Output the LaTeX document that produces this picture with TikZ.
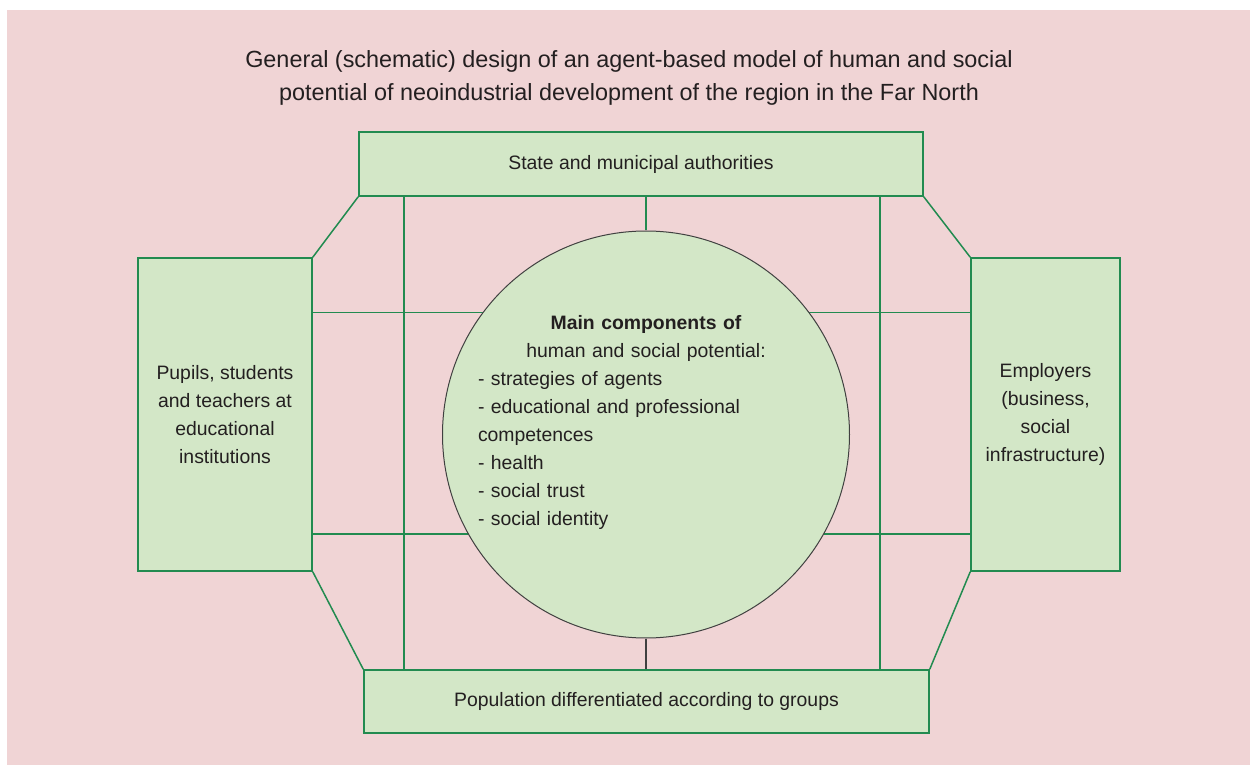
\documentclass[tikz,border=0pt]{standalone}
\usepackage{fontspec}
\setmainfont{Liberation Sans}
\definecolor{bgpink}{RGB}{240,212,213}
\definecolor{boxgreen}{RGB}{211,231,199}
\definecolor{linegreen}{RGB}{34,139,80}
\definecolor{txtgray}{RGB}{35,31,32}
\begin{document}
\begin{tikzpicture}[x=0.5pt,y=-0.5pt]
        \tikzset{
          agentbox/.style={draw=linegreen,fill=boxgreen,line width=0.75pt,inner sep=0pt,
            align=center,text=txtgray,font=\fontsize{9.7}{14}\selectfont},
          link/.style={linegreen,line width=0.75pt},
        }
        \useasboundingbox (0,0) rectangle (1250,765);
        %BACKGROUND
        \fill[bgpink] (7,10) rectangle (1250,765);
        %TITLE
        \node[align=center,text=txtgray,font=\fontsize{11.7}{16.5}\selectfont] (title) at (629,77.5)
          {General (schematic) design of an agent-based model of human and social\\
           potential of neoindustrial development of the region in the Far North};
        %AGENTS
        \node[agentbox,minimum width=282pt,minimum height=32pt] (auth) at (641,164) {State and municipal authorities};
        \node[agentbox,minimum width=87pt,minimum height=156.5pt] (pupils) at (225,414.5) {Pupils, students\\and teachers at\\educational\\institutions};
        \node[agentbox,minimum width=74.5pt,minimum height=156.5pt] (employ) at (1045.5,414.5) {Employers\\(business,\\social\\infrastructure)};
        \node[agentbox,minimum width=282.5pt,minimum height=31.5pt] (popul) at (646.5,701.5) {Population differentiated according to groups};
        %DIAGONALS
        \draw[link] (auth.south west) -- (pupils.north east);
        \draw[link] (auth.south east) -- (employ.north west);
        \draw[link] (pupils.south east) -- (popul.north west);
        \draw[link] (employ.south west) -- (popul.north east);
        %GRID
        \coordinate (vleft) at (404,0);
        \coordinate (vright) at (880,0);
        \coordinate (hup) at (0,312.5);
        \coordinate (hdown) at (0,534);
        \draw[link] (auth.south -| vleft) -- (popul.north -| vleft);
        \draw[link] (auth.south -| vright) -- (popul.north -| vright);
        \draw[link] (pupils.east |- hup) -- (employ.west |- hup);
        \draw[link] (pupils.east |- hdown) -- (employ.west |- hdown);
        %COMPONENTS
        \node[circle,draw=black!75,fill=boxgreen,line width=0.5pt,minimum size=203.5pt,inner sep=0pt] (comp) at (646,434.5) {};
        \node[anchor=north,inner sep=0pt,text width=168pt,align=left,text=txtgray,
          font=\fontsize{9.7}{14}\selectfont] (comptext) at (646,315)
          {{\centering\textbf{Main components of}\\human and social potential:\par}
           - strategies of agents\\
           - educational and professional\\
           competences\\
           - health\\
           - social trust\\
           - social identity};
        \draw[link] (auth.south -| comp.north) -- (comp.north);
        \draw[black!75,line width=0.75pt] (comp.south) -- (popul.north -| comp.south);
\end{tikzpicture}
\end{document}
